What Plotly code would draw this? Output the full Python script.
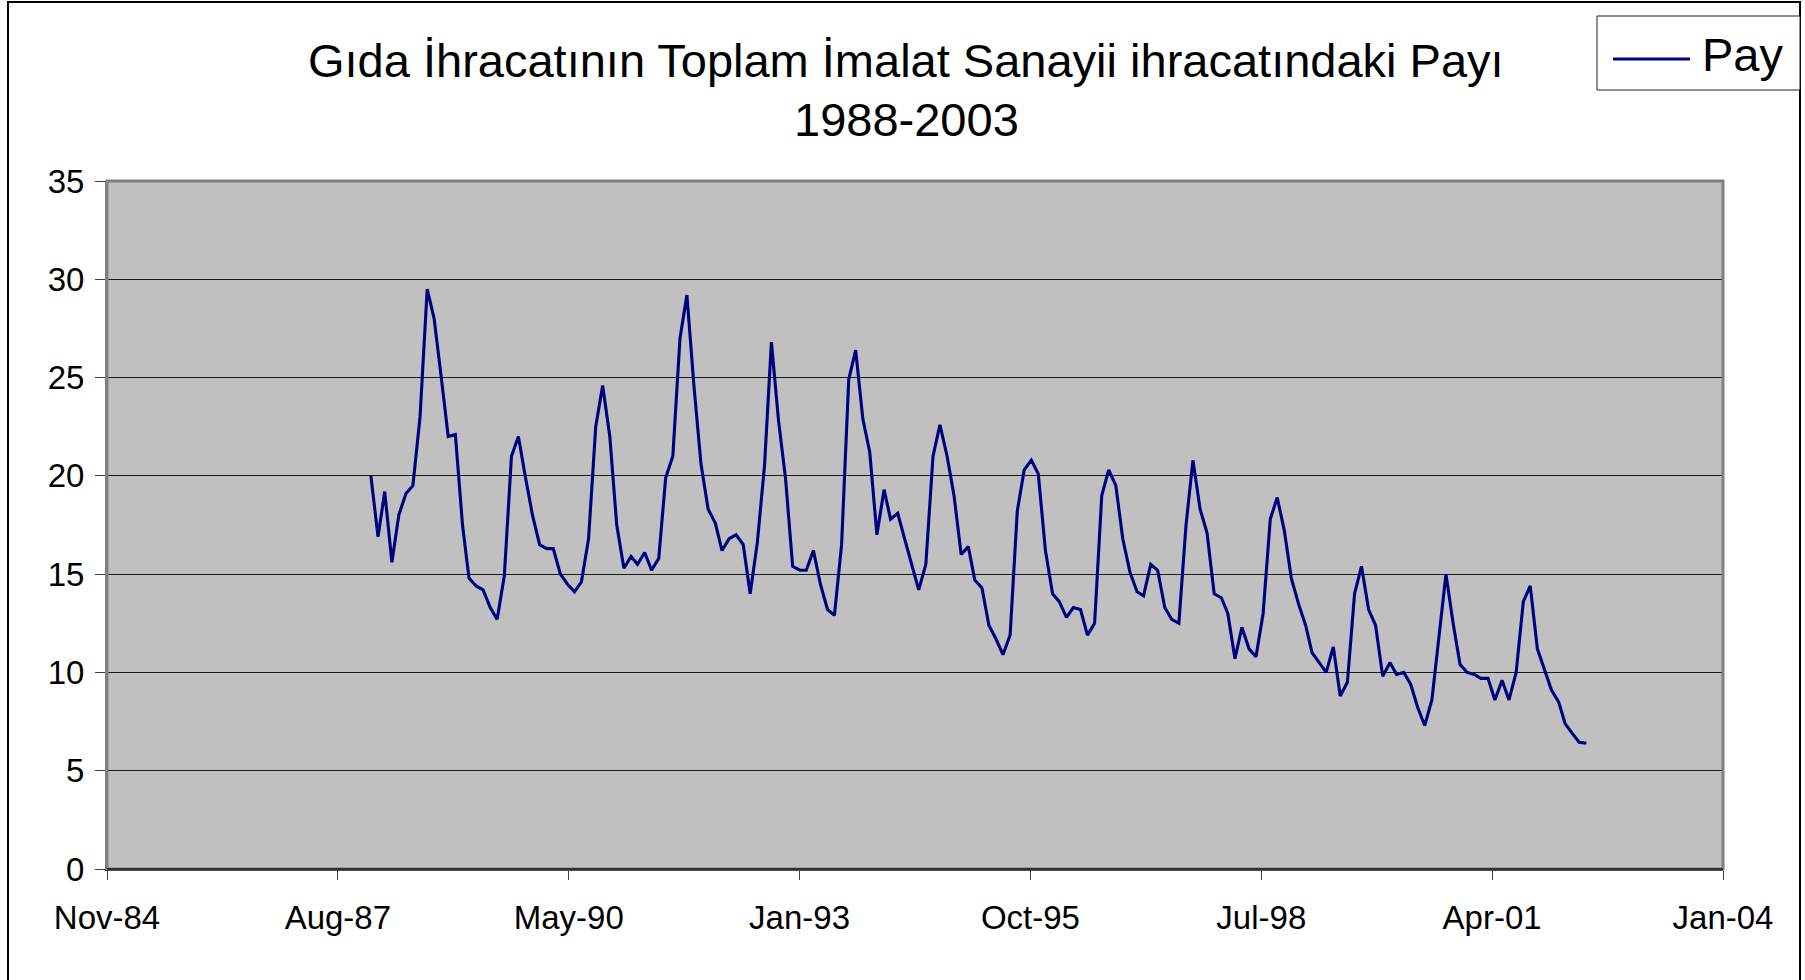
import pandas as pd
import plotly.graph_objects as go

# ---- data (monthly share, %) ----
start_month = "1988-01-01"
pay_1988 = [20.0, 16.9, 19.2, 15.6, 18.0, 19.1, 19.5, 23.0, 29.5, 28.0, 25.0, 22.0]
pay_1989 = [22.1, 17.5, 14.8, 14.4, 14.2, 13.3, 12.7, 14.9, 21.0, 22.0, 19.9, 18.0]
pay_1990 = [16.5, 16.3, 16.3, 15.0, 14.5, 14.1, 14.6, 16.8, 22.5, 24.6, 22.0, 17.5]
pay_1991 = [15.3, 15.9, 15.5, 16.1, 15.2, 15.8, 19.9, 21.0, 27.0, 29.2, 24.5, 20.6]
pay_1992 = [18.3, 17.6, 16.2, 16.8, 17.0, 16.5, 14.0, 16.6, 20.5, 26.8, 22.8, 19.9]
pay_1993 = [15.4, 15.2, 15.2, 16.2, 14.5, 13.2, 12.9, 16.5, 24.9, 26.4, 22.9, 21.2]
pay_1994 = [17.0, 19.3, 17.8, 18.1, 16.8, 15.5, 14.2, 15.5, 21.0, 22.6, 21.0, 19.0]
pay_1995 = [16.0, 16.4, 14.7, 14.3, 12.4, 11.7, 10.9, 11.9, 18.2, 20.3, 20.8, 20.1]
pay_1996 = [16.2, 14.0, 13.6, 12.8, 13.3, 13.2, 11.9, 12.5, 19.0, 20.3, 19.5, 16.8]
pay_1997 = [15.1, 14.1, 13.9, 15.5, 15.2, 13.3, 12.7, 12.5, 17.5, 20.8, 18.3, 17.1]
pay_1998 = [14.0, 13.8, 13.0, 10.7, 12.3, 11.2, 10.8, 13.0, 17.8, 18.9, 17.2, 14.8]
pay_1999 = [13.5, 12.4, 11.0, 10.5, 10.0, 11.3, 8.8, 9.5, 14.0, 15.4, 13.2, 12.4]
pay_2000 = [9.8, 10.5, 9.9, 10.0, 9.4, 8.2, 7.3, 8.6, 12.0, 15.0, 12.5, 10.4]
pay_2001 = [10.0, 9.9, 9.7, 9.7, 8.6, 9.6, 8.6, 10.0, 13.6, 14.4, 11.2, 10.2]
pay_2002 = [9.1, 8.5, 7.4, 6.9, 6.45, 6.4]

# x-axis ticks (Excel date serials, every 1000 days) and their labels
tick_serials = [31000, 32000, 33000, 34000, 35000, 36000, 37000, 38000]
tick_labels = ["Nov-84", "Aug-87", "May-90", "Jan-93", "Oct-95", "Jul-98", "Apr-01", "Jan-04"]
y_ticks = [0, 5, 10, 15, 20, 25, 30, 35]

title_line1 = "Gıda İhracatının Toplam İmalat Sanayii ihracatındaki Payı"
title_line2 = "1988-2003"
series_name = "Pay"

values = (pay_1988 + pay_1989 + pay_1990 + pay_1991 + pay_1992 + pay_1993 + pay_1994
          + pay_1995 + pay_1996 + pay_1997 + pay_1998 + pay_1999 + pay_2000 + pay_2001 + pay_2002)
dates = pd.date_range(start_month, periods=len(values), freq="MS")

excel_epoch = pd.Timestamp("1899-12-30")
tick_dates = [excel_epoch + pd.Timedelta(days=s) for s in tick_serials]

W, H = 1805, 980
L, R, T, B = 107, 1723, 181, 869
PW, PH = R - L, B - T


def px(x):
    return (x - L) / PW


def py(y):
    return (B - y) / PH


FONT = "Liberation Sans, Arial, sans-serif"

fig = go.Figure()
fig.add_trace(go.Scatter(
    x=dates, y=values, mode="lines", name=series_name,
    line=dict(color="#000080", width=3.1), showlegend=False,
))

fig.update_layout(
    width=W, height=H,
    margin=dict(l=L, r=W - R, t=T, b=H - B, pad=0),
    paper_bgcolor="white",
    plot_bgcolor="#C0C0C0",
    font=dict(family=FONT, color="black", size=33),
    xaxis=dict(
        type="date",
        range=[tick_dates[0], tick_dates[-1]],
        tickvals=tick_dates, ticktext=tick_labels,
        ticks="outside", ticklen=9, tickwidth=1, tickcolor="#404040",
        showgrid=False, zeroline=False,
        showline=True, linecolor="#202020", linewidth=2,
        tickfont=dict(size=33, family=FONT, color="black"),
        ticklabelstandoff=9,
    ),
    yaxis=dict(
        range=[0, 35], tickvals=y_ticks,
        ticks="outside", ticklen=10, tickwidth=1, tickcolor="#404040",
        showgrid=True, gridcolor="#1a1a1a", gridwidth=1,
        zeroline=False,
        showline=True, linecolor="#808080", linewidth=2,
        tickfont=dict(size=33, family=FONT, color="black"),
        ticklabelstandoff=4,
    ),
)

# plot-area border (Excel grey frame)
fig.add_shape(type="rect", xref="paper", yref="paper", x0=0, x1=1, y0=0, y1=1,
              line=dict(color="#808080", width=3), layer="above")
# x axis line over the frame
fig.add_shape(type="line", xref="paper", yref="paper", x0=0, x1=1, y0=0, y1=0,
              line=dict(color="#303030", width=2), layer="above")

# outer chart border (left, top, right visible)
fig.add_shape(type="rect", xref="paper", yref="paper",
              x0=px(8), x1=px(1800), y0=py(1000), y1=py(2),
              line=dict(color="black", width=2))

# title
fig.add_annotation(text=title_line1, xref="paper", yref="paper",
                   x=px(906), y=py(60), xanchor="center", yanchor="middle",
                   showarrow=False, font=dict(size=47, family=FONT, color="black"))
fig.add_annotation(text=title_line2, xref="paper", yref="paper",
                   x=px(906), y=py(120), xanchor="center", yanchor="middle",
                   showarrow=False, font=dict(size=47, family=FONT, color="black"))

# legend box
fig.add_shape(type="rect", xref="paper", yref="paper",
              x0=px(1597), x1=px(1800), y0=py(90), y1=py(16),
              line=dict(color="#202020", width=1), fillcolor="white")
fig.add_shape(type="line", xref="paper", yref="paper",
              x0=px(1613), x1=px(1690), y0=py(59), y1=py(59),
              line=dict(color="#000080", width=3))
fig.add_annotation(text=series_name, xref="paper", yref="paper",
                   x=px(1700), y=py(54), xanchor="left", yanchor="middle",
                   showarrow=False, font=dict(size=47, family=FONT, color="black"))

fig.write_html("out.html", post_script="document.body.style.margin='0';",
               config={"displayModeBar": False})
